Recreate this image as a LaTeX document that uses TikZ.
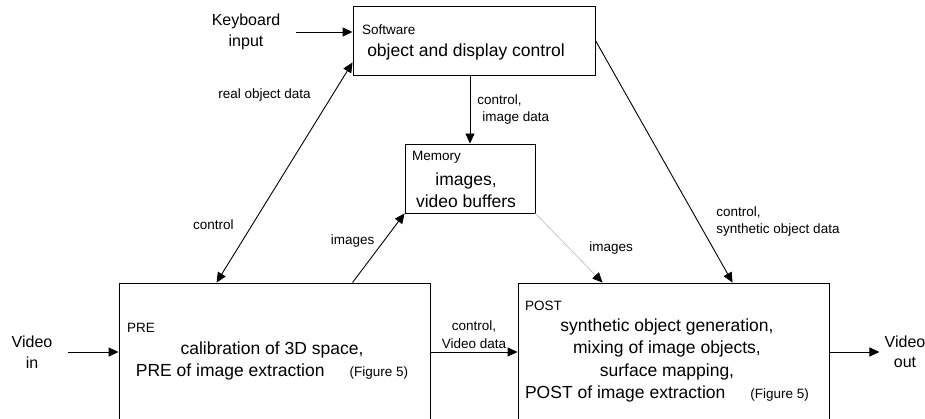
\documentclass[tikz,border=0pt]{standalone}
\usepackage{fontspec}
\setmainfont{Liberation Sans}
\usetikzlibrary{arrows.meta,positioning,calc}

\begin{document}
\begin{tikzpicture}[x=1pt, y=-1pt,
    box/.style={rectangle, draw, line width=0.9pt, inner sep=0pt},
    tag/.style={anchor=west, inner sep=0pt, font=\fontsize{13.5}{16}\selectfont},
    body/.style={align=center, inner sep=0pt, font=\fontsize{17.5}{22.3}\selectfont},
    note/.style={inner sep=0pt, align=left, font=\fontsize{13.5}{17.5}\selectfont},
    io/.style={align=center, font=\fontsize{16}{20.5}\selectfont},
    flow/.style={line width=0.9pt, -{Triangle[length=10pt,width=9pt]}},
    both/.style={line width=0.9pt, {Triangle[length=10pt,width=9pt]}-{Triangle[length=10pt,width=9pt]}},
    faint/.style={draw=gray!55, line width=0.6pt, -{Triangle[length=10pt,width=9pt,black]}}
]
    \useasboundingbox (0,0) rectangle (925,419);
    \clip (0,0) rectangle (925,419);

    % blocks
    \node[box, minimum width=242pt, minimum height=69pt] (sw) at (474,40.5) {};
    \node[box, minimum width=130pt, minimum height=69pt] (mem) at (470,178.5) {};
    \node[box, minimum width=311pt, minimum height=138pt] (pre) at (274.5,352) {};
    \node[box, minimum width=311pt, minimum height=138pt] (post) at (673.5,352) {};

    % block titles
    \node[tag] (swtag) at (362,30) {Software};
    \node[tag] (memtag) at (412,157) {Memory};
    \node[tag] (pretag) at (127,328) {PRE};
    \node[tag] (posttag) at (525,306) {POST};

    % block contents
    \node[body] (swtext) at (466,52) {object and display control};
    \node[body] (memtext) at (466,190) {images,\\video buffers};
    \node[body] (pretext) at (272,361) {calibration of 3D space,\\PRE of image extraction\hspace{25pt}{\fontsize{13.5}{16}\selectfont(Figure 5)}};
    \node[body] (posttext) at (667,360.5) {synthetic object generation,\\mixing of image objects,\\surface mapping,\\POST of image extraction\hspace{25pt}{\fontsize{13.5}{16}\selectfont(Figure 5)}};

    % inputs and outputs
    \node[io, inner xsep=16pt] (kb) at (246,32) {Keyboard\\input};
    \node[io, inner xsep=15pt] (vin) at (32,352) {Video\\in};
    \node[io, inner xsep=5pt] (vout) at (905,352) {Video\\out};

    % connections
    \draw[flow] (kb) -- (kb -| sw.west);
    \draw[flow] (sw.south -| mem.north) -- (mem.north)
        node[note, midway, right=7pt] {control,\\\hspace{5pt}image data};
    \draw[both] ([xshift=98pt]pre.north west) -- ([yshift=13pt]sw.south west)
        node[note, pos=0.85, anchor=east, xshift=-21pt] {real object data}
        node[note, pos=0.262, anchor=east, xshift=-18pt] {control};
    \draw[flow] ([xshift=234pt]pre.north west) -- (mem.south west)
        node[note, pos=0.6, anchor=east, xshift=-9pt] {images};
    \draw[faint] (mem.south east) -- ([xshift=85pt]post.north west)
        node[note, pos=0.5, anchor=west, xshift=20pt] {images};
    \draw[flow] (sw.east) -- ([xshift=215pt]post.north west)
        node[note, pos=0.748, anchor=west, xshift=18pt] {control,\\synthetic object data};
    \draw[flow] (vin) -- (pre.west);
    \draw[flow] (pre.east) -- (post.west)
        node[note, midway, above=3pt, align=center] {control,\\Video data};
    \draw[flow] (post.east) -- (vout);
\end{tikzpicture}
\end{document}
